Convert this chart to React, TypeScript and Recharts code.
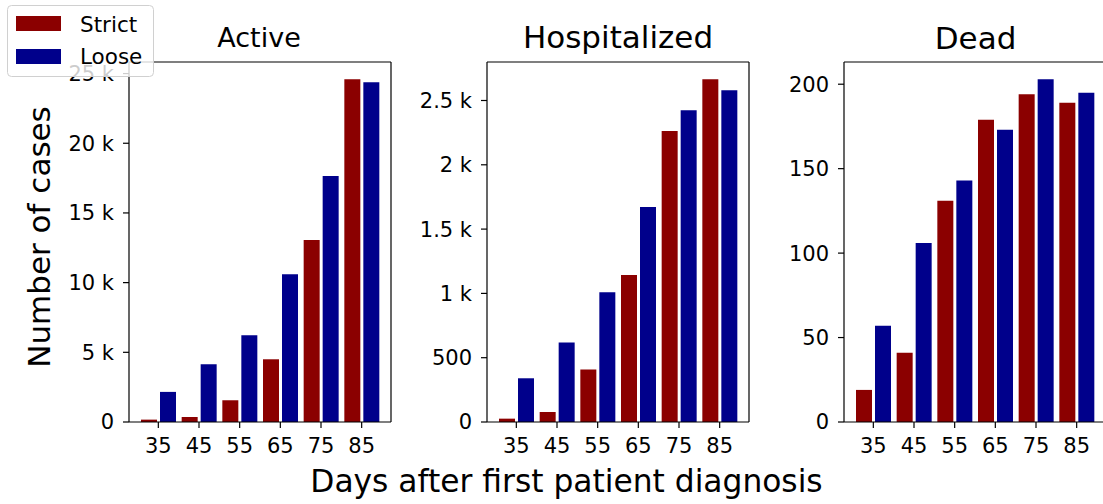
import React from 'react';
import { BarChart, Bar, XAxis, YAxis } from 'recharts';

const days = [35, 45, 55, 65, 75, 85];

const activeStrict = [170, 360, 1560, 4500, 13050, 24600];
const activeLoose = [2160, 4150, 6230, 10610, 17650, 24380];

const hospStrict = [26, 78, 408, 1143, 2263, 2666];
const hospLoose = [340, 618, 1008, 1672, 2424, 2580];

const deadStrict = [19, 41, 131, 179, 194, 189];
const deadLoose = [57, 106, 143, 173, 203, 195];

const activeTicks = [0, 5000, 10000, 15000, 20000, 25000];
const hospTicks = [0, 500, 1000, 1500, 2000, 2500];
const deadTicks = [0, 50, 100, 150, 200];

const seriesNames = ['Strict', 'Loose'];
const seriesColors = ['#8b0000', '#00008b'];
const panelTitles = ['Active', 'Hospitalized', 'Dead'];
const xLabel = 'Days after first patient diagnosis';
const yLabel = 'Number of cases';

const FONT = '"DejaVu Sans", Verdana, sans-serif';

const fmtK = (v: number) => (v === 0 ? '0' : v < 1000 ? String(v) : `${v / 1000} k`);
const fmtPlain = (v: number) => String(v);

const tickStyle = { fontFamily: FONT, fontSize: 21, fill: '#000' };
const lineStyle = { stroke: '#000', strokeWidth: 1.2 };

type PanelProps = {
  left: number;
  strict: number[];
  loose: number[];
  ticks: number[];
  fmt: (v: number) => string;
};

function Panel({ left, strict, loose, ticks, fmt }: PanelProps) {
  const data = days.map((d, i) => ({ day: d, strict: strict[i], loose: loose[i] }));
  const top = Math.max(...strict, ...loose) * 1.05;
  return (
    <div style={{ position: 'absolute', left, top: 0 }}>
      <BarChart
        width={400}
        height={504}
        data={data}
        margin={{ top: 61, right: 8, bottom: 52, left: 69 }}
        barGap={3}
        barSize={16}
      >
        <XAxis
          dataKey="day"
          type="category"
          padding={{ left: 9, right: 9 }}
          height={30}
          interval={0}
          tickSize={6}
          tickMargin={10}
          tick={tickStyle}
          axisLine={lineStyle}
          tickLine={lineStyle}
        />
        <XAxis
          xAxisId="top"
          dataKey="day"
          type="category"
          orientation="top"
          height={1}
          tick={false}
          tickLine={false}
          axisLine={lineStyle}
        />
        <YAxis
          type="number"
          domain={[0, top]}
          allowDataOverflow
          ticks={ticks}
          tickFormatter={fmt}
          width={60}
          tickSize={6}
          tickMargin={9}
          tick={tickStyle}
          axisLine={lineStyle}
          tickLine={lineStyle}
        />
        <YAxis
          yAxisId="right"
          orientation="right"
          type="number"
          domain={[0, 1]}
          width={1}
          tick={false}
          tickLine={false}
          axisLine={lineStyle}
        />
        <Bar dataKey="strict" name={seriesNames[0]} fill={seriesColors[0]} isAnimationActive={false} />
        <Bar dataKey="loose" name={seriesNames[1]} fill={seriesColors[1]} isAnimationActive={false} />
      </BarChart>
    </div>
  );
}

export default function App() {
  return (
    <div
      style={{
        position: 'absolute',
        left: 0,
        top: 0,
        width: 1103,
        height: 504,
        overflow: 'hidden',
        background: '#fff',
      }}
    >
      <Panel left={0} strict={activeStrict} loose={activeLoose} ticks={activeTicks} fmt={fmtK} />
      <Panel left={358.3} strict={hospStrict} loose={hospLoose} ticks={hospTicks} fmt={fmtK} />
      <Panel left={715.3} strict={deadStrict} loose={deadLoose} ticks={deadTicks} fmt={fmtPlain} />
      <svg
        width={1103}
        height={504}
        style={{ position: 'absolute', left: 0, top: 0, pointerEvents: 'none' }}
        fontFamily={FONT}
      >
        <text x={259} y={46.7} fontSize={27} textAnchor="middle" fill="#000">
          {panelTitles[0]}
        </text>
        <text x={618} y={48.3} fontSize={31} textAnchor="middle" fill="#000">
          {panelTitles[1]}
        </text>
        <text x={975.5} y={48.7} fontSize={31} textAnchor="middle" fill="#000">
          {panelTitles[2]}
        </text>
        <text x={566.5} y={492.3} fontSize={31.3} textAnchor="middle" fill="#000">
          {xLabel}
        </text>
        <text
          x={0}
          y={0}
          fontSize={31}
          textAnchor="middle"
          fill="#000"
          transform="translate(50,237) rotate(-90)"
        >
          {yLabel}
        </text>
        <rect x={7.5} y={5.5} width={146} height={71} rx={4} fill="#fff" fillOpacity={0.8} stroke="#d0d0d0" strokeWidth={1} />
        {seriesNames.map((n, i) => (
          <g key={n}>
            <rect x={16} y={16 + i * 33} width={45} height={15} fill={seriesColors[i]} />
            <text x={80} y={31.7 + i * 32.5} fontSize={21.5} fill="#000">
              {n}
            </text>
          </g>
        ))}
      </svg>
    </div>
  );
}
